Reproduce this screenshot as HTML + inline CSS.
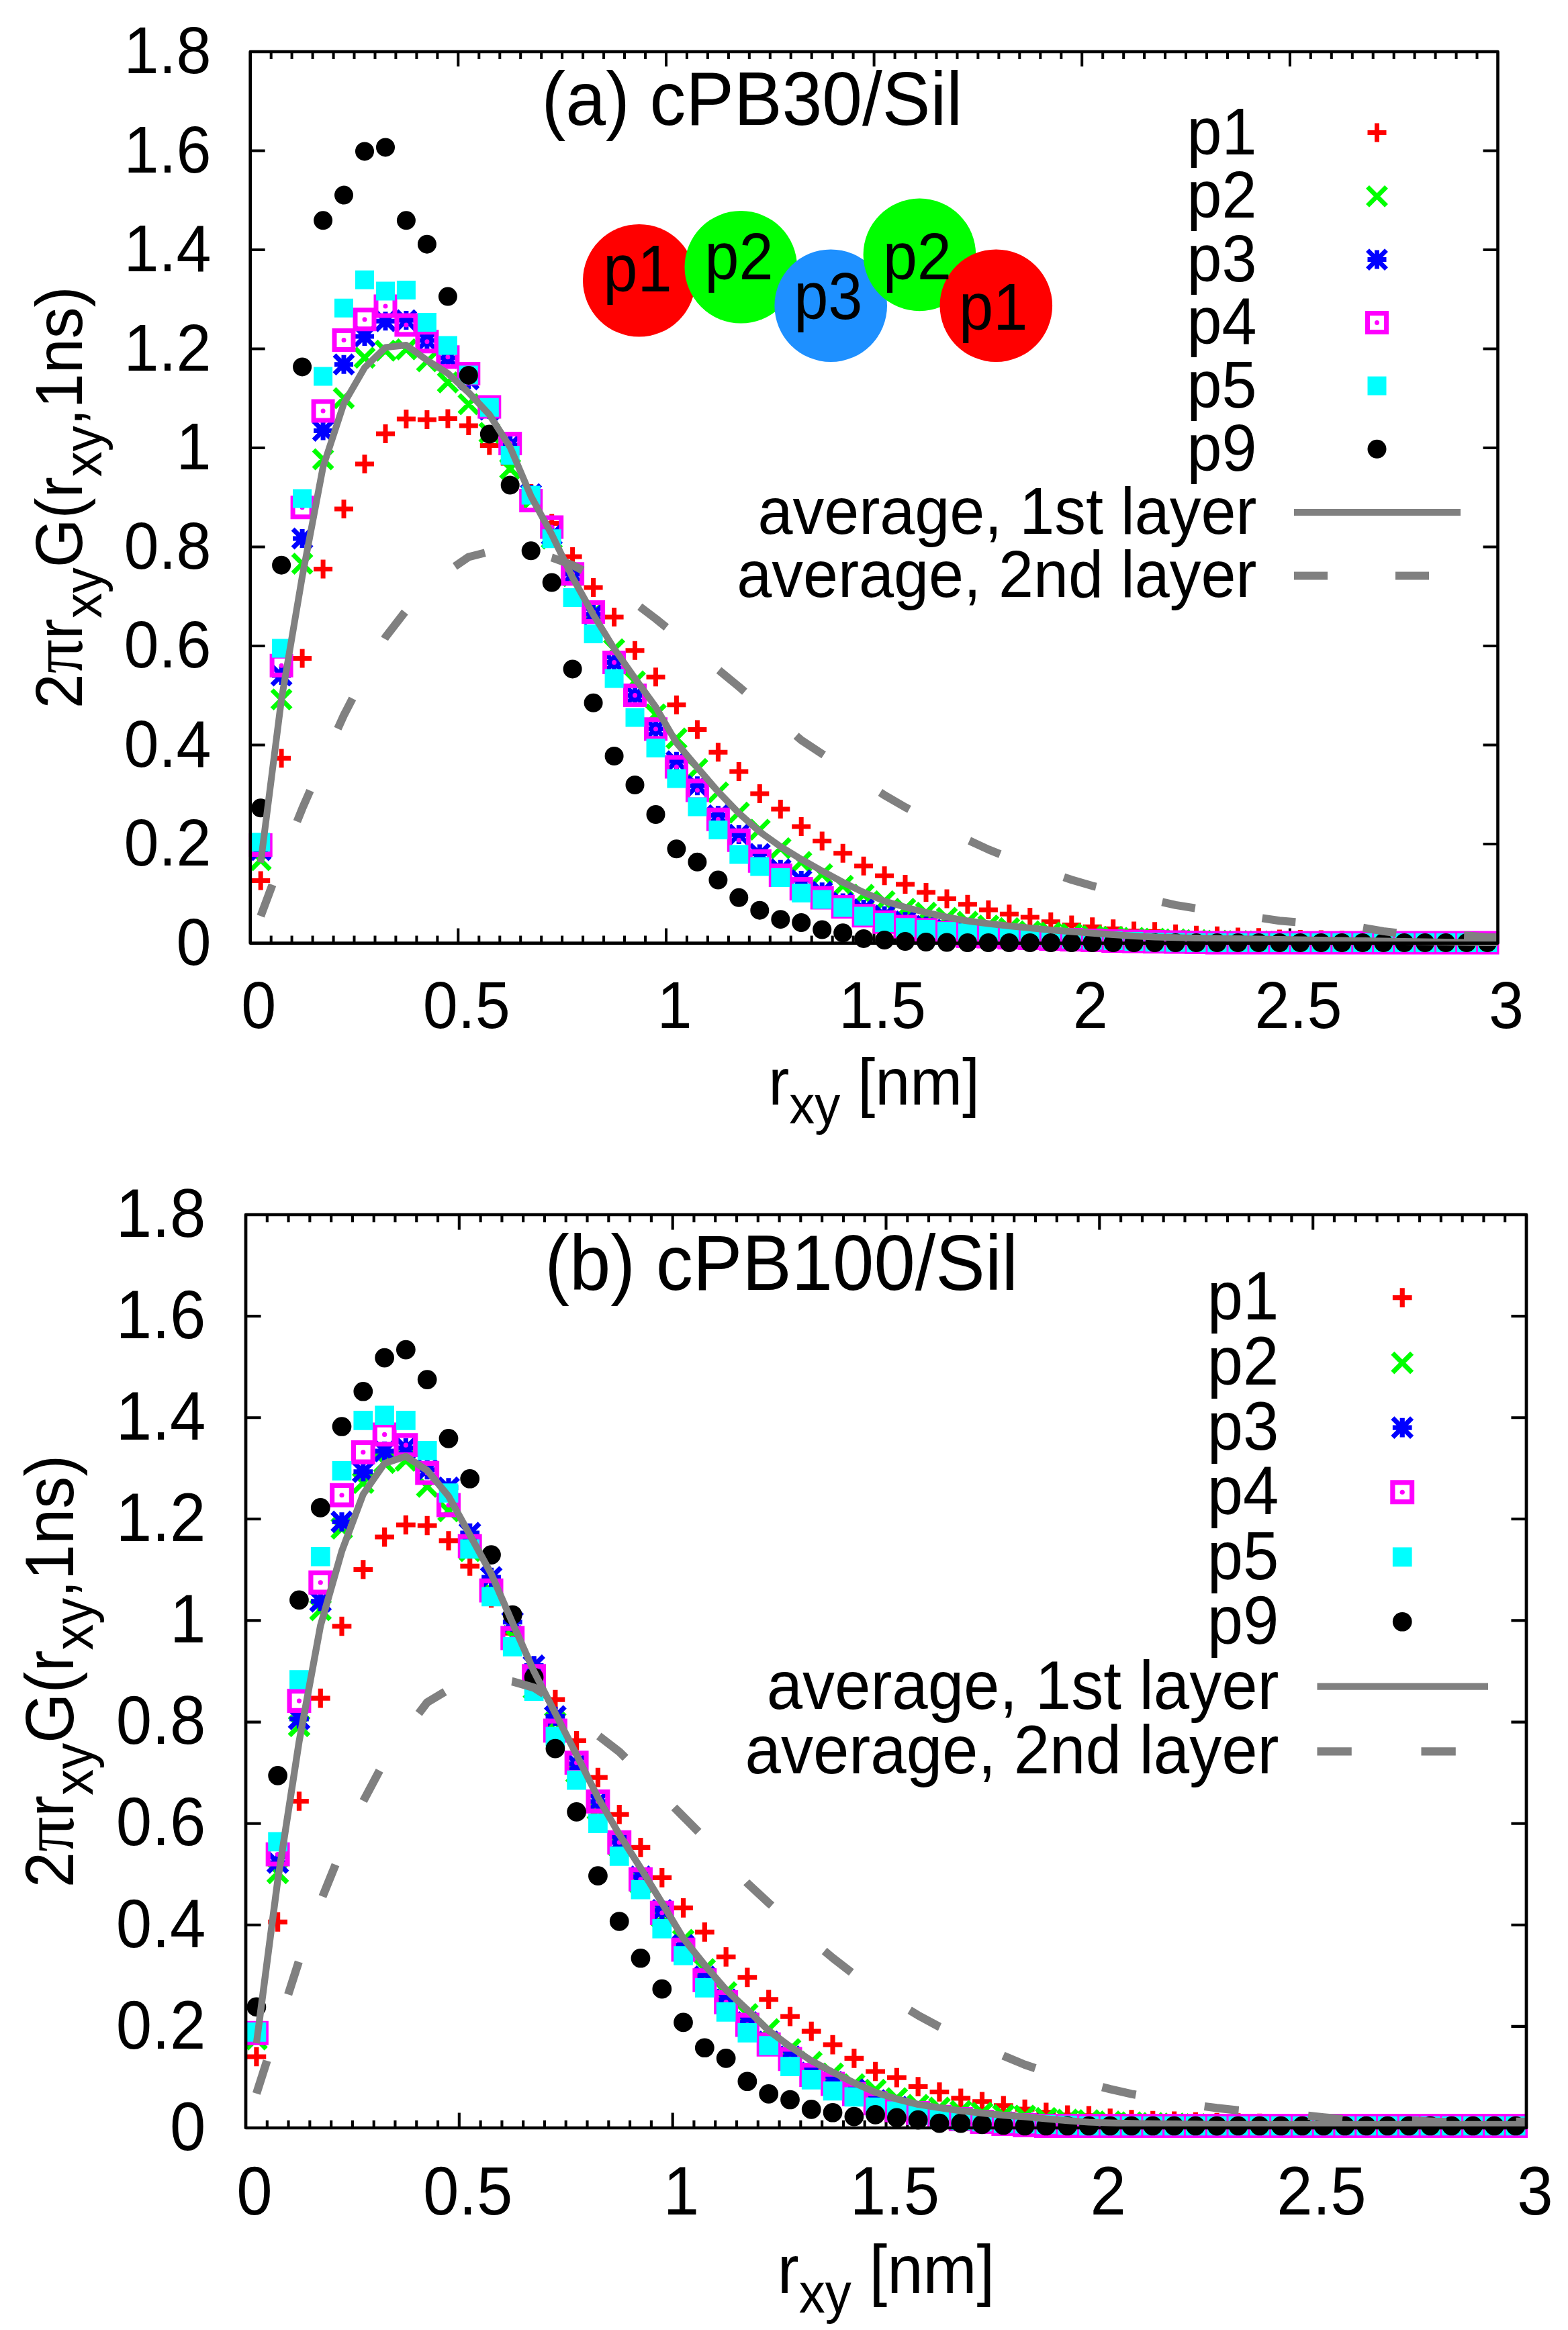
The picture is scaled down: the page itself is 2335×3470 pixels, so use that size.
<!DOCTYPE html>
<html><head><meta charset="utf-8"><title>plot</title>
<style>html,body{margin:0;padding:0;background:#fff;}svg{display:block;}</style></head>
<body>
<svg width="2335" height="3470" viewBox="0 0 2335 3470">
<rect width="2335" height="3470" fill="#fff"/>
<g>
<clipPath id="clipa"><rect x="372.7" y="77.0" width="1857.8" height="1327.6"/></clipPath>
<path d="M372.7 1257.1h22M2230.5 1257.1h-22M372.7 1109.6h22M2230.5 1109.6h-22M372.7 962.1h22M2230.5 962.1h-22M372.7 814.6h22M2230.5 814.6h-22M372.7 667h22M2230.5 667h-22M372.7 519.5h22M2230.5 519.5h-22M372.7 372h22M2230.5 372h-22M372.7 224.5h22M2230.5 224.5h-22M403.7 1404.6v-11M403.7 77v11M434.6 1404.6v-11M434.6 77v11M465.6 1404.6v-11M465.6 77v11M496.6 1404.6v-11M496.6 77v11M527.5 1404.6v-11M527.5 77v11M558.5 1404.6v-11M558.5 77v11M589.4 1404.6v-11M589.4 77v11M620.4 1404.6v-11M620.4 77v11M651.4 1404.6v-11M651.4 77v11M682.3 1404.6v-22M682.3 77v22M713.3 1404.6v-11M713.3 77v11M744.3 1404.6v-11M744.3 77v11M775.2 1404.6v-11M775.2 77v11M806.2 1404.6v-11M806.2 77v11M837.1 1404.6v-11M837.1 77v11M868.1 1404.6v-11M868.1 77v11M899.1 1404.6v-11M899.1 77v11M930 1404.6v-11M930 77v11M961 1404.6v-11M961 77v11M992 1404.6v-22M992 77v22M1022.9 1404.6v-11M1022.9 77v11M1053.9 1404.6v-11M1053.9 77v11M1084.9 1404.6v-11M1084.9 77v11M1115.8 1404.6v-11M1115.8 77v11M1146.8 1404.6v-11M1146.8 77v11M1177.7 1404.6v-11M1177.7 77v11M1208.7 1404.6v-11M1208.7 77v11M1239.7 1404.6v-11M1239.7 77v11M1270.6 1404.6v-11M1270.6 77v11M1301.6 1404.6v-22M1301.6 77v22M1332.6 1404.6v-11M1332.6 77v11M1363.5 1404.6v-11M1363.5 77v11M1394.5 1404.6v-11M1394.5 77v11M1425.5 1404.6v-11M1425.5 77v11M1456.4 1404.6v-11M1456.4 77v11M1487.4 1404.6v-11M1487.4 77v11M1518.3 1404.6v-11M1518.3 77v11M1549.3 1404.6v-11M1549.3 77v11M1580.3 1404.6v-11M1580.3 77v11M1611.2 1404.6v-22M1611.2 77v22M1642.2 1404.6v-11M1642.2 77v11M1673.2 1404.6v-11M1673.2 77v11M1704.1 1404.6v-11M1704.1 77v11M1735.1 1404.6v-11M1735.1 77v11M1766 1404.6v-11M1766 77v11M1797 1404.6v-11M1797 77v11M1828 1404.6v-11M1828 77v11M1858.9 1404.6v-11M1858.9 77v11M1889.9 1404.6v-11M1889.9 77v11M1920.9 1404.6v-22M1920.9 77v22M1951.8 1404.6v-11M1951.8 77v11M1982.8 1404.6v-11M1982.8 77v11M2013.8 1404.6v-11M2013.8 77v11M2044.7 1404.6v-11M2044.7 77v11M2075.7 1404.6v-11M2075.7 77v11M2106.6 1404.6v-11M2106.6 77v11M2137.6 1404.6v-11M2137.6 77v11M2168.6 1404.6v-11M2168.6 77v11M2199.5 1404.6v-11M2199.5 77v11" stroke="#000" stroke-width="4.0" fill="none"/>
<g font-family="'Liberation Sans', Arial, Helvetica, sans-serif" fill="#000">
<text transform="translate(314.5 1436.6) scale(1 1.06)" text-anchor="end" font-size="93.5">0</text>
<text transform="translate(314.5 1289.1) scale(1 1.06)" text-anchor="end" font-size="93.5">0.2</text>
<text transform="translate(314.5 1141.6) scale(1 1.06)" text-anchor="end" font-size="93.5">0.4</text>
<text transform="translate(314.5 994.1) scale(1 1.06)" text-anchor="end" font-size="93.5">0.6</text>
<text transform="translate(314.5 846.6) scale(1 1.06)" text-anchor="end" font-size="93.5">0.8</text>
<text transform="translate(314.5 699) scale(1 1.06)" text-anchor="end" font-size="93.5">1</text>
<text transform="translate(314.5 551.5) scale(1 1.06)" text-anchor="end" font-size="93.5">1.2</text>
<text transform="translate(314.5 404) scale(1 1.06)" text-anchor="end" font-size="93.5">1.4</text>
<text transform="translate(314.5 256.5) scale(1 1.06)" text-anchor="end" font-size="93.5">1.6</text>
<text transform="translate(314.5 109) scale(1 1.06)" text-anchor="end" font-size="93.5">1.8</text>
<text transform="translate(385.2 1531) scale(1 1.06)" text-anchor="middle" font-size="93.5">0</text>
<text transform="translate(694.8 1531) scale(1 1.06)" text-anchor="middle" font-size="93.5">0.5</text>
<text transform="translate(1004.5 1531) scale(1 1.06)" text-anchor="middle" font-size="93.5">1</text>
<text transform="translate(1314.1 1531) scale(1 1.06)" text-anchor="middle" font-size="93.5">1.5</text>
<text transform="translate(1623.7 1531) scale(1 1.06)" text-anchor="middle" font-size="93.5">2</text>
<text transform="translate(1933.4 1531) scale(1 1.06)" text-anchor="middle" font-size="93.5">2.5</text>
<text transform="translate(2243 1531) scale(1 1.06)" text-anchor="middle" font-size="93.5">3</text>
<text transform="translate(1301.6 1644.5) scale(1 1.06)" text-anchor="middle" font-size="93.5">r<tspan font-size="76" dy="27">xy</tspan><tspan dy="-27"> [nm]</tspan></text>
<text transform="translate(122.3 740.8) rotate(-90) scale(1 1.06)" text-anchor="middle" font-size="93.5">2<tspan font-family="'Liberation Serif', serif" font-size="101">&#960;</tspan>r<tspan font-size="76" dy="27">xy</tspan><tspan dy="-27">G(r</tspan><tspan font-size="76" dy="27">xy</tspan><tspan dy="-27">,1ns)</tspan></text>
<text transform="translate(1871.5 229.6) scale(1 1.06)" text-anchor="end" font-size="93.5">p1</text>
<text transform="translate(1871.5 324.4) scale(1 1.06)" text-anchor="end" font-size="93.5">p2</text>
<text transform="translate(1871.5 418.6) scale(1 1.06)" text-anchor="end" font-size="93.5">p3</text>
<text transform="translate(1871.5 512.4) scale(1 1.06)" text-anchor="end" font-size="93.5">p4</text>
<text transform="translate(1871.5 606.6) scale(1 1.06)" text-anchor="end" font-size="93.5">p5</text>
<text transform="translate(1871.5 700.8) scale(1 1.06)" text-anchor="end" font-size="93.5">p9</text>
<text transform="translate(1871.5 795) scale(1 1.06)" text-anchor="end" font-size="93.5">average, 1st layer</text>
<text transform="translate(1871.5 889.4) scale(1 1.06)" text-anchor="end" font-size="93.5">average, 2nd layer</text>
<text transform="translate(806.5 186.1) scale(1 1.06)" text-anchor="start" font-size="107.4">(a) cPB30/Sil</text>
</g>
<g font-family="'Liberation Sans', Arial, Helvetica, sans-serif"><circle cx="951.8" cy="417.7" r="83.8" fill="#ff0000"/>
<circle cx="1103.3" cy="397.8" r="83.8" fill="#00ff00"/>
<circle cx="1237.2" cy="455.2" r="83.8" fill="#1e90ff"/>
<circle cx="1369.4" cy="379.4" r="83.8" fill="#00ff00"/>
<circle cx="1483.3" cy="455.2" r="83.8" fill="#ff0000"/>
<text transform="translate(949.5 433.8) scale(1 1.06)" text-anchor="middle" font-size="92">p1</text>
<text transform="translate(1100.5 416.4) scale(1 1.06)" text-anchor="middle" font-size="92">p2</text>
<text transform="translate(1233.3 475.1) scale(1 1.06)" text-anchor="middle" font-size="92">p3</text>
<text transform="translate(1365.8 416.4) scale(1 1.06)" text-anchor="middle" font-size="92">p2</text>
<text transform="translate(1479.2 491.2) scale(1 1.06)" text-anchor="middle" font-size="92">p1</text></g>
<path d="M374.2 1311.5h28M388.2 1297.5v28M405.1 1129.2h28M419.1 1115.2v28M436.1 980.5h28M450.1 966.5v28M467.1 847.4h28M481.1 833.4v28M498 758h28M512 744v28M529 690.9h28M543 676.9v28M560 646h28M574 632v28M590.9 624h28M604.9 610v28M621.9 624.9h28M635.9 610.9v28M652.9 623.6h28M666.9 609.6v28M683.8 633.9h28M697.8 619.9v28M714.8 663.6h28M728.8 649.6v28M745.7 690h28M759.7 676v28M776.7 735h28M790.7 721v28M807.7 779.5h28M821.7 765.5v28M838.6 828.9h28M852.6 814.9v28M869.6 875.1h28M883.6 861.1v28M900.6 919h28M914.6 905v28M931.5 968.7h28M945.5 954.7v28M962.5 1008.3h28M976.5 994.3v28M993.4 1049.7h28M1007.4 1035.7v28M1024.4 1086.4h28M1038.4 1072.4v28M1055.4 1120.3h28M1069.4 1106.3v28M1086.3 1149h28M1100.3 1135v28M1117.3 1182.1h28M1131.3 1168.1v28M1148.3 1205h28M1162.3 1191v28M1179.2 1230.9h28M1193.2 1216.9v28M1210.2 1252.5h28M1224.2 1238.5v28M1241.2 1270.7h28M1255.2 1256.7v28M1272.1 1289.8h28M1286.1 1275.8v28M1303.1 1304.2h28M1317.1 1290.2v28M1334 1317h28M1348 1303v28M1365 1329h28M1379 1315v28M1396 1338.6h28M1410 1324.6v28M1426.9 1346.7h28M1440.9 1332.7v28M1457.9 1354.9h28M1471.9 1340.9v28M1488.9 1361.2h28M1502.9 1347.2v28M1519.8 1366h28M1533.8 1352v28M1550.8 1372.7h28M1564.8 1358.7v28M1581.8 1377.5h28M1595.8 1363.5v28M1612.7 1380.3h28M1626.7 1366.3v28M1643.7 1383.2h28M1657.7 1369.2v28M1674.6 1386.6h28M1688.6 1372.6v28M1705.6 1387.3h28M1719.6 1373.3v28M1736.6 1390.8h28M1750.6 1376.8v28M1767.5 1392.8h28M1781.5 1378.8v28M1798.5 1393.7h28M1812.5 1379.7v28M1829.5 1395.6h28M1843.5 1381.6v28M1860.4 1396.2h28M1874.4 1382.2v28M1891.4 1398.5h28M1905.4 1384.5v28M1922.3 1398.9h28M1936.3 1384.9v28M1953.3 1399.6h28M1967.3 1385.6v28M1984.3 1400h28M1998.3 1386v28M2015.2 1400.5h28M2029.2 1386.5v28M2046.2 1401h28M2060.2 1387v28M2077.2 1401.5h28M2091.2 1387.5v28M2108.1 1402h28M2122.1 1388v28M2139.1 1402.5h28M2153.1 1388.5v28M2170.1 1403h28M2184.1 1389v28M2201 1403h28M2215 1389v28" fill="none" stroke="#ff0000" stroke-width="7.0"/>
<path d="M374.2 1267l28 28M374.2 1295l28 -28M405.1 1027.6l28 28M405.1 1055.6l28 -28M436.1 825.5l28 28M436.1 853.5l28 -28M467.1 670l28 28M467.1 698l28 -28M498 579l28 28M498 607l28 -28M529 518.7l28 28M529 546.7l28 -28M560 508.2l28 28M560 536.2l28 -28M590.9 506.3l28 28M590.9 534.3l28 -28M621.9 524.1l28 28M621.9 552.1l28 -28M652.9 555.5l28 28M652.9 583.5l28 -28M683.8 588l28 28M683.8 616l28 -28M714.8 630.6l28 28M714.8 658.6l28 -28M745.7 684l28 28M745.7 712l28 -28M776.7 731l28 28M776.7 759l28 -28M807.7 788l28 28M807.7 816l28 -28M838.6 844l28 28M838.6 872l28 -28M869.6 899l28 28M869.6 927l28 -28M900.6 953l28 28M900.6 981l28 -28M931.5 1000.8l28 28M931.5 1028.8l28 -28M962.5 1049.9l28 28M962.5 1077.9l28 -28M993.4 1085.8l28 28M993.4 1113.8l28 -28M1024.4 1131.1l28 28M1024.4 1159.1l28 -28M1055.4 1166.1l28 28M1055.4 1194.1l28 -28M1086.3 1196.2l28 28M1086.3 1224.2l28 -28M1117.3 1221.6l28 28M1117.3 1249.6l28 -28M1148.3 1249.2l28 28M1148.3 1277.2l28 -28M1179.2 1269.7l28 28M1179.2 1297.7l28 -28M1210.2 1287.9l28 28M1210.2 1315.9l28 -28M1241.2 1305.1l28 28M1241.2 1333.1l28 -28M1272.1 1318.5l28 28M1272.1 1346.5l28 -28M1303.1 1328.1l28 28M1303.1 1356.1l28 -28M1334 1339.5l28 28M1334 1367.5l28 -28M1365 1345.3l28 28M1365 1373.3l28 -28M1396 1352.9l28 28M1396 1380.9l28 -28M1426.9 1358.7l28 28M1426.9 1386.7l28 -28M1457.9 1364.4l28 28M1457.9 1392.4l28 -28M1488.9 1368.2l28 28M1488.9 1396.2l28 -28M1519.8 1373l28 28M1519.8 1401l28 -28M1550.8 1375l28 28M1550.8 1403l28 -28M1581.8 1376.9l28 28M1581.8 1404.9l28 -28M1612.7 1379.7l28 28M1612.7 1407.7l28 -28M1643.7 1381.2l28 28M1643.7 1409.2l28 -28M1674.6 1382.6l28 28M1674.6 1410.6l28 -28M1705.6 1384l28 28M1705.6 1412l28 -28M1736.6 1385l28 28M1736.6 1413l28 -28M1767.5 1386l28 28M1767.5 1414l28 -28M1798.5 1387l28 28M1798.5 1415l28 -28M1829.5 1387.5l28 28M1829.5 1415.5l28 -28M1860.4 1388l28 28M1860.4 1416l28 -28M1891.4 1388.5l28 28M1891.4 1416.5l28 -28M1922.3 1389l28 28M1922.3 1417l28 -28M1953.3 1389.3l28 28M1953.3 1417.3l28 -28M1984.3 1389.6l28 28M1984.3 1417.6l28 -28M2015.2 1390l28 28M2015.2 1418l28 -28M2046.2 1390l28 28M2046.2 1418l28 -28M2077.2 1390l28 28M2077.2 1418l28 -28M2108.1 1390l28 28M2108.1 1418l28 -28M2139.1 1390l28 28M2139.1 1418l28 -28M2170.1 1390l28 28M2170.1 1418l28 -28M2201 1390l28 28M2201 1418l28 -28" fill="none" stroke="#00ff00" stroke-width="7.0"/>
<path d="M374.2 1266h28M388.2 1252v28M374.2 1252l28 28M374.2 1280l28 -28M405.1 1006h28M419.1 992v28M405.1 992l28 28M405.1 1020l28 -28M436.1 802h28M450.1 788v28M436.1 788l28 28M436.1 816l28 -28M467.1 641.5h28M481.1 627.5v28M467.1 627.5l28 28M467.1 655.5l28 -28M498 542.7h28M512 528.7v28M498 528.7l28 28M498 556.7l28 -28M529 501.1h28M543 487.1v28M529 487.1l28 28M529 515.1l28 -28M560 478.3h28M574 464.3v28M560 464.3l28 28M560 492.3l28 -28M590.9 477h28M604.9 463v28M590.9 463l28 28M590.9 491l28 -28M621.9 507h28M635.9 493v28M621.9 493l28 28M621.9 521l28 -28M652.9 533h28M666.9 519v28M652.9 519l28 28M652.9 547l28 -28M683.8 565h28M697.8 551v28M683.8 551l28 28M683.8 579l28 -28M714.8 610h28M728.8 596v28M714.8 596l28 28M714.8 624l28 -28M745.7 663h28M759.7 649v28M745.7 649l28 28M745.7 677l28 -28M776.7 736h28M790.7 722v28M776.7 722l28 28M776.7 750l28 -28M807.7 796.6h28M821.7 782.6v28M807.7 782.6l28 28M807.7 810.6l28 -28M838.6 855h28M852.6 841v28M838.6 841l28 28M838.6 869l28 -28M869.6 914.8h28M883.6 900.8v28M869.6 900.8l28 28M869.6 928.8l28 -28M900.6 986.5h28M914.6 972.5v28M900.6 972.5l28 28M900.6 1000.5l28 -28M931.5 1035.7h28M945.5 1021.7v28M931.5 1021.7l28 28M931.5 1049.7l28 -28M962.5 1085.5h28M976.5 1071.5v28M962.5 1071.5l28 28M962.5 1099.5l28 -28M993.4 1133.8h28M1007.4 1119.8v28M993.4 1119.8l28 28M993.4 1147.8l28 -28M1024.4 1170.2h28M1038.4 1156.2v28M1024.4 1156.2l28 28M1024.4 1184.2l28 -28M1055.4 1214.2h28M1069.4 1200.2v28M1055.4 1200.2l28 28M1055.4 1228.2l28 -28M1086.3 1242.9h28M1100.3 1228.9v28M1086.3 1228.9l28 28M1086.3 1256.9l28 -28M1117.3 1271.6h28M1131.3 1257.6v28M1117.3 1257.6l28 28M1117.3 1285.6l28 -28M1148.3 1294.8h28M1162.3 1280.8v28M1148.3 1280.8l28 28M1148.3 1308.8l28 -28M1179.2 1311h28M1193.2 1297v28M1179.2 1297l28 28M1179.2 1325l28 -28M1210.2 1328.3h28M1224.2 1314.3v28M1210.2 1314.3l28 28M1210.2 1342.3l28 -28M1241.2 1344.5h28M1255.2 1330.5v28M1241.2 1330.5l28 28M1241.2 1358.5l28 -28M1272.1 1354.1h28M1286.1 1340.1v28M1272.1 1340.1l28 28M1272.1 1368.1l28 -28M1303.1 1363.7h28M1317.1 1349.7v28M1303.1 1349.7l28 28M1303.1 1377.7l28 -28M1334 1372.3h28M1348 1358.3v28M1334 1358.3l28 28M1334 1386.3l28 -28M1365 1379h28M1379 1365v28M1365 1365l28 28M1365 1393l28 -28M1396 1384.7h28M1410 1370.7v28M1396 1370.7l28 28M1396 1398.7l28 -28M1426.9 1389h28M1440.9 1375v28M1426.9 1375l28 28M1426.9 1403l28 -28M1457.9 1392h28M1471.9 1378v28M1457.9 1378l28 28M1457.9 1406l28 -28M1488.9 1394.5h28M1502.9 1380.5v28M1488.9 1380.5l28 28M1488.9 1408.5l28 -28M1519.8 1396.5h28M1533.8 1382.5v28M1519.8 1382.5l28 28M1519.8 1410.5l28 -28M1550.8 1398h28M1564.8 1384v28M1550.8 1384l28 28M1550.8 1412l28 -28M1581.8 1399h28M1595.8 1385v28M1581.8 1385l28 28M1581.8 1413l28 -28M1612.7 1400h28M1626.7 1386v28M1612.7 1386l28 28M1612.7 1414l28 -28M1643.7 1401h28M1657.7 1387v28M1643.7 1387l28 28M1643.7 1415l28 -28M1674.6 1401.8h28M1688.6 1387.8v28M1674.6 1387.8l28 28M1674.6 1415.8l28 -28M1705.6 1402.5h28M1719.6 1388.5v28M1705.6 1388.5l28 28M1705.6 1416.5l28 -28M1736.6 1403h28M1750.6 1389v28M1736.6 1389l28 28M1736.6 1417l28 -28M1767.5 1403.5h28M1781.5 1389.5v28M1767.5 1389.5l28 28M1767.5 1417.5l28 -28M1798.5 1404h28M1812.5 1390v28M1798.5 1390l28 28M1798.5 1418l28 -28M1829.5 1404h28M1843.5 1390v28M1829.5 1390l28 28M1829.5 1418l28 -28M1860.4 1404h28M1874.4 1390v28M1860.4 1390l28 28M1860.4 1418l28 -28M1891.4 1404h28M1905.4 1390v28M1891.4 1390l28 28M1891.4 1418l28 -28M1922.3 1404h28M1936.3 1390v28M1922.3 1390l28 28M1922.3 1418l28 -28M1953.3 1404h28M1967.3 1390v28M1953.3 1390l28 28M1953.3 1418l28 -28M1984.3 1404h28M1998.3 1390v28M1984.3 1390l28 28M1984.3 1418l28 -28M2015.2 1404h28M2029.2 1390v28M2015.2 1390l28 28M2015.2 1418l28 -28M2046.2 1404h28M2060.2 1390v28M2046.2 1390l28 28M2046.2 1418l28 -28M2077.2 1404h28M2091.2 1390v28M2077.2 1390l28 28M2077.2 1418l28 -28M2108.1 1404h28M2122.1 1390v28M2108.1 1390l28 28M2108.1 1418l28 -28M2139.1 1404h28M2153.1 1390v28M2139.1 1390l28 28M2139.1 1418l28 -28M2170.1 1404h28M2184.1 1390v28M2170.1 1390l28 28M2170.1 1418l28 -28M2201 1404h28M2215 1390v28M2201 1390l28 28M2201 1418l28 -28" fill="none" stroke="#0000ff" stroke-width="7.0"/>
<path d="M374.2 1244.5h28v28h-28zM405.1 977.2h28v28h-28zM436.1 741.8h28v28h-28zM467.1 598.1h28v28h-28zM498 492.5h28v28h-28zM529 461.7h28v28h-28zM560 442.1h28v28h-28zM590.9 469.9h28v28h-28zM621.9 494.8h28v28h-28zM652.9 517.7h28v28h-28zM683.8 542.5h28v28h-28zM714.8 592h28v28h-28zM745.7 646.5h28v28h-28zM776.7 731.5h28v28h-28zM807.7 771.1h28v28h-28zM838.6 840.8h28v28h-28zM869.6 897.5h28v28h-28zM900.6 972.6h28v28h-28zM931.5 1021.6h28v28h-28zM962.5 1071.7h28v28h-28zM993.4 1127.9h28v28h-28zM1024.4 1163.1h28v28h-28zM1055.4 1206.3h28v28h-28zM1086.3 1237.3h28v28h-28zM1117.3 1268.3h28v28h-28zM1148.3 1289.5h28v28h-28zM1179.2 1309.6h28v28h-28zM1210.2 1323h28v28h-28zM1241.2 1336.4h28v28h-28zM1272.1 1349.8h28v28h-28zM1303.1 1359.3h28v28h-28zM1334 1366h28v28h-28zM1365 1370.8h28v28h-28zM1396 1375.6h28v28h-28zM1426.9 1380.4h28v28h-28zM1457.9 1381h28v28h-28zM1488.9 1382.5h28v28h-28zM1519.8 1383.5h28v28h-28zM1550.8 1384.5h28v28h-28zM1581.8 1385.5h28v28h-28zM1612.7 1386.5h28v28h-28zM1643.7 1387.5h28v28h-28zM1674.6 1388h28v28h-28zM1705.6 1388.5h28v28h-28zM1736.6 1389h28v28h-28zM1767.5 1389.5h28v28h-28zM1798.5 1390h28v28h-28zM1829.5 1390h28v28h-28zM1860.4 1390h28v28h-28zM1891.4 1390h28v28h-28zM1922.3 1390h28v28h-28zM1953.3 1390h28v28h-28zM1984.3 1390h28v28h-28zM2015.2 1390h28v28h-28zM2046.2 1390h28v28h-28zM2077.2 1390h28v28h-28zM2108.1 1390h28v28h-28zM2139.1 1390h28v28h-28zM2170.1 1390h28v28h-28zM2201 1390h28v28h-28z" fill="none" stroke="#ff00ff" stroke-width="7.0"/><path d="M388.2 1258.5h0.01M419.1 991.2h0.01M450.1 755.8h0.01M481.1 612.1h0.01M512 506.5h0.01M543 475.7h0.01M574 456.1h0.01M604.9 483.9h0.01M635.9 508.8h0.01M666.9 531.7h0.01M697.8 556.5h0.01M728.8 606h0.01M759.7 660.5h0.01M790.7 745.5h0.01M821.7 785.1h0.01M852.6 854.8h0.01M883.6 911.5h0.01M914.6 986.6h0.01M945.5 1035.6h0.01M976.5 1085.7h0.01M1007.4 1141.9h0.01M1038.4 1177.1h0.01M1069.4 1220.3h0.01M1100.3 1251.3h0.01M1131.3 1282.3h0.01M1162.3 1303.5h0.01M1193.2 1323.6h0.01M1224.2 1337h0.01M1255.2 1350.4h0.01M1286.1 1363.8h0.01M1317.1 1373.3h0.01M1348 1380h0.01M1379 1384.8h0.01M1410 1389.6h0.01M1440.9 1394.4h0.01M1471.9 1395h0.01M1502.9 1396.5h0.01M1533.8 1397.5h0.01M1564.8 1398.5h0.01M1595.8 1399.5h0.01M1626.7 1400.5h0.01M1657.7 1401.5h0.01M1688.6 1402h0.01M1719.6 1402.5h0.01M1750.6 1403h0.01M1781.5 1403.5h0.01M1812.5 1404h0.01M1843.5 1404h0.01M1874.4 1404h0.01M1905.4 1404h0.01M1936.3 1404h0.01M1967.3 1404h0.01M1998.3 1404h0.01M2029.2 1404h0.01M2060.2 1404h0.01M2091.2 1404h0.01M2122.1 1404h0.01M2153.1 1404h0.01M2184.1 1404h0.01M2215 1404h0.01" fill="none" stroke="#ff00ff" stroke-width="7.0" stroke-linecap="round"/>
<path d="M374.2 1240.3h28v28h-28zM405.1 951.4h28v28h-28zM436.1 728.4h28v28h-28zM467.1 546.4h28v28h-28zM498 444.8h28v28h-28zM529 402.7h28v28h-28zM560 419.4h28v28h-28zM590.9 418h28v28h-28zM621.9 466h28v28h-28zM652.9 500.6h28v28h-28zM683.8 544.4h28v28h-28zM714.8 592.8h28v28h-28zM745.7 663.9h28v28h-28zM776.7 723.6h28v28h-28zM807.7 788.2h28v28h-28zM838.6 876h28v28h-28zM869.6 929.9h28v28h-28zM900.6 996.4h28v28h-28zM931.5 1054.6h28v28h-28zM962.5 1100.1h28v28h-28zM993.4 1145.5h28v28h-28zM1024.4 1187.6h28v28h-28zM1055.4 1222h28v28h-28zM1086.3 1258.4h28v28h-28zM1117.3 1276.5h28v28h-28zM1148.3 1292.9h28v28h-28zM1179.2 1316h28v28h-28zM1210.2 1325.6h28v28h-28zM1241.2 1337.4h28v28h-28zM1272.1 1350.4h28v28h-28zM1303.1 1360h28v28h-28zM1334 1367.3h28v28h-28zM1365 1370h28v28h-28zM1396 1373h28v28h-28zM1426.9 1375.3h28v28h-28zM1457.9 1377.5h28v28h-28zM1488.9 1379.5h28v28h-28zM1519.8 1381h28v28h-28zM1550.8 1383h28v28h-28zM1581.8 1384.5h28v28h-28zM1612.7 1386h28v28h-28zM1643.7 1387h28v28h-28zM1674.6 1388h28v28h-28zM1705.6 1389h28v28h-28zM1736.6 1389.5h28v28h-28zM1767.5 1390h28v28h-28zM1798.5 1390h28v28h-28zM1829.5 1390h28v28h-28zM1860.4 1390h28v28h-28zM1891.4 1390h28v28h-28zM1922.3 1390h28v28h-28zM1953.3 1390h28v28h-28zM1984.3 1390h28v28h-28zM2015.2 1390h28v28h-28zM2046.2 1390h28v28h-28zM2077.2 1390h28v28h-28zM2108.1 1390h28v28h-28zM2139.1 1390h28v28h-28zM2170.1 1390h28v28h-28zM2201 1390h28v28h-28z" fill="#00ffff"/>
<path d="M374.2 1203.3a14 14 0 1 0 28 0a14 14 0 1 0 -28 0zM405.1 841.7a14 14 0 1 0 28 0a14 14 0 1 0 -28 0zM436.1 546.4a14 14 0 1 0 28 0a14 14 0 1 0 -28 0zM467.1 328.3a14 14 0 1 0 28 0a14 14 0 1 0 -28 0zM498 290.6a14 14 0 1 0 28 0a14 14 0 1 0 -28 0zM529 225.4a14 14 0 1 0 28 0a14 14 0 1 0 -28 0zM560 219.4a14 14 0 1 0 28 0a14 14 0 1 0 -28 0zM590.9 328.3a14 14 0 1 0 28 0a14 14 0 1 0 -28 0zM621.9 363.7a14 14 0 1 0 28 0a14 14 0 1 0 -28 0zM652.9 441.6a14 14 0 1 0 28 0a14 14 0 1 0 -28 0zM683.8 558.9a14 14 0 1 0 28 0a14 14 0 1 0 -28 0zM714.8 646.6a14 14 0 1 0 28 0a14 14 0 1 0 -28 0zM745.7 722.5a14 14 0 1 0 28 0a14 14 0 1 0 -28 0zM776.7 820.3a14 14 0 1 0 28 0a14 14 0 1 0 -28 0zM807.7 867.5a14 14 0 1 0 28 0a14 14 0 1 0 -28 0zM838.6 996.4a14 14 0 1 0 28 0a14 14 0 1 0 -28 0zM869.6 1046.8a14 14 0 1 0 28 0a14 14 0 1 0 -28 0zM900.6 1126a14 14 0 1 0 28 0a14 14 0 1 0 -28 0zM931.5 1169a14 14 0 1 0 28 0a14 14 0 1 0 -28 0zM962.5 1213a14 14 0 1 0 28 0a14 14 0 1 0 -28 0zM993.4 1264.3a14 14 0 1 0 28 0a14 14 0 1 0 -28 0zM1024.4 1283.8a14 14 0 1 0 28 0a14 14 0 1 0 -28 0zM1055.4 1310.6a14 14 0 1 0 28 0a14 14 0 1 0 -28 0zM1086.3 1336.8a14 14 0 1 0 28 0a14 14 0 1 0 -28 0zM1117.3 1355.7a14 14 0 1 0 28 0a14 14 0 1 0 -28 0zM1148.3 1369.2a14 14 0 1 0 28 0a14 14 0 1 0 -28 0zM1179.2 1374a14 14 0 1 0 28 0a14 14 0 1 0 -28 0zM1210.2 1384.5a14 14 0 1 0 28 0a14 14 0 1 0 -28 0zM1241.2 1389.3a14 14 0 1 0 28 0a14 14 0 1 0 -28 0zM1272.1 1397.9a14 14 0 1 0 28 0a14 14 0 1 0 -28 0zM1303.1 1400a14 14 0 1 0 28 0a14 14 0 1 0 -28 0zM1334 1402a14 14 0 1 0 28 0a14 14 0 1 0 -28 0zM1365 1403a14 14 0 1 0 28 0a14 14 0 1 0 -28 0zM1396 1403.5a14 14 0 1 0 28 0a14 14 0 1 0 -28 0zM1426.9 1404a14 14 0 1 0 28 0a14 14 0 1 0 -28 0zM1457.9 1404a14 14 0 1 0 28 0a14 14 0 1 0 -28 0zM1488.9 1404a14 14 0 1 0 28 0a14 14 0 1 0 -28 0zM1519.8 1404a14 14 0 1 0 28 0a14 14 0 1 0 -28 0zM1550.8 1404a14 14 0 1 0 28 0a14 14 0 1 0 -28 0zM1581.8 1404a14 14 0 1 0 28 0a14 14 0 1 0 -28 0zM1612.7 1404a14 14 0 1 0 28 0a14 14 0 1 0 -28 0zM1643.7 1404a14 14 0 1 0 28 0a14 14 0 1 0 -28 0zM1674.6 1404a14 14 0 1 0 28 0a14 14 0 1 0 -28 0zM1705.6 1404a14 14 0 1 0 28 0a14 14 0 1 0 -28 0zM1736.6 1404a14 14 0 1 0 28 0a14 14 0 1 0 -28 0zM1767.5 1404a14 14 0 1 0 28 0a14 14 0 1 0 -28 0zM1798.5 1404a14 14 0 1 0 28 0a14 14 0 1 0 -28 0zM1829.5 1404a14 14 0 1 0 28 0a14 14 0 1 0 -28 0zM1860.4 1404a14 14 0 1 0 28 0a14 14 0 1 0 -28 0zM1891.4 1404a14 14 0 1 0 28 0a14 14 0 1 0 -28 0zM1922.3 1404a14 14 0 1 0 28 0a14 14 0 1 0 -28 0zM1953.3 1404a14 14 0 1 0 28 0a14 14 0 1 0 -28 0zM1984.3 1404a14 14 0 1 0 28 0a14 14 0 1 0 -28 0zM2015.2 1404a14 14 0 1 0 28 0a14 14 0 1 0 -28 0zM2046.2 1404a14 14 0 1 0 28 0a14 14 0 1 0 -28 0zM2077.2 1404a14 14 0 1 0 28 0a14 14 0 1 0 -28 0zM2108.1 1404a14 14 0 1 0 28 0a14 14 0 1 0 -28 0zM2139.1 1404a14 14 0 1 0 28 0a14 14 0 1 0 -28 0zM2170.1 1404a14 14 0 1 0 28 0a14 14 0 1 0 -28 0zM2201 1404a14 14 0 1 0 28 0a14 14 0 1 0 -28 0z" fill="#000000"/>
<path d="M2036.5 197.6h28M2050.5 183.6v28" fill="none" stroke="#ff0000" stroke-width="7.0"/>
<path d="M2036.5 278.4l28 28M2036.5 306.4l28 -28" fill="none" stroke="#00ff00" stroke-width="7.0"/>
<path d="M2036.5 386.6h28M2050.5 372.6v28M2036.5 372.6l28 28M2036.5 400.6l28 -28" fill="none" stroke="#0000ff" stroke-width="7.0"/>
<path d="M2036.5 466.4h28v28h-28z" fill="none" stroke="#ff00ff" stroke-width="7.0"/>
<path d="M2050.5 480.4h0.01" stroke="#ff00ff" stroke-width="7.0" stroke-linecap="round"/>
<path d="M2036.5 560.6h28v28h-28z" fill="#00ffff"/>
<path d="M2036.5 668.8a14 14 0 1 0 28 0a14 14 0 1 0 -28 0z" fill="#000000"/>
<path d="M1927 763.0H2175" stroke="#808080" stroke-width="10"/>
<path d="M1927 857.4H2175" stroke="#808080" stroke-width="12" stroke-dasharray="50 101"/>
<path d="M388.2 1284.5L419.1 1041.5L450.1 858.6L481.1 695.3L512 601L543 547.5L574 517.4L604.9 514L635.9 536.5L666.9 556L697.8 584.5L728.8 617.5L759.7 666L790.7 739L821.7 796L852.6 860L883.6 915.5L914.6 966L945.5 1010L976.5 1053L1007.4 1106.3L1038.4 1143L1069.4 1179L1100.3 1211L1131.3 1238.7L1162.3 1260.8L1193.2 1279.7L1224.2 1297L1255.2 1314L1286.1 1329L1317.1 1342L1348 1351L1379 1359L1410 1366L1440.9 1371.5L1471.9 1375.5L1502.9 1379L1533.8 1382L1564.8 1385L1595.8 1387.5L1626.7 1389.8L1657.7 1392L1688.6 1394L1719.6 1395.5L1750.6 1396.3L1781.5 1397L1812.5 1397.5L1843.5 1398L1874.4 1398.5L1905.4 1399L1936.3 1399.5L1967.3 1400L1998.3 1400.5L2029.2 1401L2060.2 1401.5L2091.2 1402L2122.1 1402.5L2153.1 1403L2184.1 1403.5L2215 1404L2230.5 1404" fill="none" stroke="#808080" stroke-width="10" stroke-linejoin="round"/>
<path d="M388.2 1364.4L419.1 1281.3L450.1 1204.2L481.1 1133.4L512 1065.3L543 1005.1L574 949L604.9 909L635.9 879.9L666.9 850.8L697.8 829.5L728.8 821.5L759.7 818.1L790.7 822.4L821.7 830.4L852.6 841.6L883.6 857.6L914.6 877.8L945.5 898L976.5 921.5L1007.4 946.5L1038.4 971.8L1069.4 997.2L1100.3 1022.7L1131.3 1049L1162.3 1075.7L1193.2 1102.3L1224.2 1122.7L1255.2 1143.2L1286.1 1164L1317.1 1184.2L1348 1202.1L1379 1218.5L1410 1234.6L1440.9 1250.8L1471.9 1265.1L1502.9 1277.7L1533.8 1288.8L1564.8 1299.8L1595.8 1310.2L1626.7 1319.3L1657.7 1326.8L1688.6 1333.8L1719.6 1340.9L1750.6 1347.9L1781.5 1352.9L1812.5 1357.4L1843.5 1362L1874.4 1366.6L1905.4 1371.2L1936.3 1373.8L1967.3 1376.3L1998.3 1378.9L2029.2 1381.5L2060.2 1386.9L2091.2 1390.8L2122.1 1391.5L2153.1 1392.3L2184.1 1393.3L2215 1395.9L2230.5 1395.9" fill="none" stroke="#808080" stroke-width="12" stroke-linejoin="round" stroke-dasharray="50 101"/>
<rect x="372.7" y="77.0" width="1857.8" height="1327.6" fill="none" stroke="#000" stroke-width="4.6" stroke-linejoin="round"/>
</g>
<g transform="matrix(1.026483 0 0 1.024405 -16.570 1730.121)">
<clipPath id="clipb"><rect x="372.7" y="77.0" width="1857.8" height="1327.6"/></clipPath>
<path d="M372.7 1257.1h22M2230.5 1257.1h-22M372.7 1109.6h22M2230.5 1109.6h-22M372.7 962.1h22M2230.5 962.1h-22M372.7 814.6h22M2230.5 814.6h-22M372.7 667h22M2230.5 667h-22M372.7 519.5h22M2230.5 519.5h-22M372.7 372h22M2230.5 372h-22M372.7 224.5h22M2230.5 224.5h-22M403.7 1404.6v-11M403.7 77v11M434.6 1404.6v-11M434.6 77v11M465.6 1404.6v-11M465.6 77v11M496.6 1404.6v-11M496.6 77v11M527.5 1404.6v-11M527.5 77v11M558.5 1404.6v-11M558.5 77v11M589.4 1404.6v-11M589.4 77v11M620.4 1404.6v-11M620.4 77v11M651.4 1404.6v-11M651.4 77v11M682.3 1404.6v-22M682.3 77v22M713.3 1404.6v-11M713.3 77v11M744.3 1404.6v-11M744.3 77v11M775.2 1404.6v-11M775.2 77v11M806.2 1404.6v-11M806.2 77v11M837.1 1404.6v-11M837.1 77v11M868.1 1404.6v-11M868.1 77v11M899.1 1404.6v-11M899.1 77v11M930 1404.6v-11M930 77v11M961 1404.6v-11M961 77v11M992 1404.6v-22M992 77v22M1022.9 1404.6v-11M1022.9 77v11M1053.9 1404.6v-11M1053.9 77v11M1084.9 1404.6v-11M1084.9 77v11M1115.8 1404.6v-11M1115.8 77v11M1146.8 1404.6v-11M1146.8 77v11M1177.7 1404.6v-11M1177.7 77v11M1208.7 1404.6v-11M1208.7 77v11M1239.7 1404.6v-11M1239.7 77v11M1270.6 1404.6v-11M1270.6 77v11M1301.6 1404.6v-22M1301.6 77v22M1332.6 1404.6v-11M1332.6 77v11M1363.5 1404.6v-11M1363.5 77v11M1394.5 1404.6v-11M1394.5 77v11M1425.5 1404.6v-11M1425.5 77v11M1456.4 1404.6v-11M1456.4 77v11M1487.4 1404.6v-11M1487.4 77v11M1518.3 1404.6v-11M1518.3 77v11M1549.3 1404.6v-11M1549.3 77v11M1580.3 1404.6v-11M1580.3 77v11M1611.2 1404.6v-22M1611.2 77v22M1642.2 1404.6v-11M1642.2 77v11M1673.2 1404.6v-11M1673.2 77v11M1704.1 1404.6v-11M1704.1 77v11M1735.1 1404.6v-11M1735.1 77v11M1766 1404.6v-11M1766 77v11M1797 1404.6v-11M1797 77v11M1828 1404.6v-11M1828 77v11M1858.9 1404.6v-11M1858.9 77v11M1889.9 1404.6v-11M1889.9 77v11M1920.9 1404.6v-22M1920.9 77v22M1951.8 1404.6v-11M1951.8 77v11M1982.8 1404.6v-11M1982.8 77v11M2013.8 1404.6v-11M2013.8 77v11M2044.7 1404.6v-11M2044.7 77v11M2075.7 1404.6v-11M2075.7 77v11M2106.6 1404.6v-11M2106.6 77v11M2137.6 1404.6v-11M2137.6 77v11M2168.6 1404.6v-11M2168.6 77v11M2199.5 1404.6v-11M2199.5 77v11" stroke="#000" stroke-width="4.0" fill="none"/>
<g font-family="'Liberation Sans', Arial, Helvetica, sans-serif" fill="#000">
<text transform="translate(314.5 1436.6) scale(1 1.06)" text-anchor="end" font-size="93.5">0</text>
<text transform="translate(314.5 1289.1) scale(1 1.06)" text-anchor="end" font-size="93.5">0.2</text>
<text transform="translate(314.5 1141.6) scale(1 1.06)" text-anchor="end" font-size="93.5">0.4</text>
<text transform="translate(314.5 994.1) scale(1 1.06)" text-anchor="end" font-size="93.5">0.6</text>
<text transform="translate(314.5 846.6) scale(1 1.06)" text-anchor="end" font-size="93.5">0.8</text>
<text transform="translate(314.5 699) scale(1 1.06)" text-anchor="end" font-size="93.5">1</text>
<text transform="translate(314.5 551.5) scale(1 1.06)" text-anchor="end" font-size="93.5">1.2</text>
<text transform="translate(314.5 404) scale(1 1.06)" text-anchor="end" font-size="93.5">1.4</text>
<text transform="translate(314.5 256.5) scale(1 1.06)" text-anchor="end" font-size="93.5">1.6</text>
<text transform="translate(314.5 109) scale(1 1.06)" text-anchor="end" font-size="93.5">1.8</text>
<text transform="translate(385.2 1531) scale(1 1.06)" text-anchor="middle" font-size="93.5">0</text>
<text transform="translate(694.8 1531) scale(1 1.06)" text-anchor="middle" font-size="93.5">0.5</text>
<text transform="translate(1004.5 1531) scale(1 1.06)" text-anchor="middle" font-size="93.5">1</text>
<text transform="translate(1314.1 1531) scale(1 1.06)" text-anchor="middle" font-size="93.5">1.5</text>
<text transform="translate(1623.7 1531) scale(1 1.06)" text-anchor="middle" font-size="93.5">2</text>
<text transform="translate(1933.4 1531) scale(1 1.06)" text-anchor="middle" font-size="93.5">2.5</text>
<text transform="translate(2243 1531) scale(1 1.06)" text-anchor="middle" font-size="93.5">3</text>
<text transform="translate(1301.6 1644.5) scale(1 1.06)" text-anchor="middle" font-size="93.5">r<tspan font-size="76" dy="27">xy</tspan><tspan dy="-27"> [nm]</tspan></text>
<text transform="translate(122.3 740.8) rotate(-90) scale(1 1.06)" text-anchor="middle" font-size="93.5">2<tspan font-family="'Liberation Serif', serif" font-size="101">&#960;</tspan>r<tspan font-size="76" dy="27">xy</tspan><tspan dy="-27">G(r</tspan><tspan font-size="76" dy="27">xy</tspan><tspan dy="-27">,1ns)</tspan></text>
<text transform="translate(1871.5 229.6) scale(1 1.06)" text-anchor="end" font-size="93.5">p1</text>
<text transform="translate(1871.5 324.4) scale(1 1.06)" text-anchor="end" font-size="93.5">p2</text>
<text transform="translate(1871.5 418.6) scale(1 1.06)" text-anchor="end" font-size="93.5">p3</text>
<text transform="translate(1871.5 512.4) scale(1 1.06)" text-anchor="end" font-size="93.5">p4</text>
<text transform="translate(1871.5 606.6) scale(1 1.06)" text-anchor="end" font-size="93.5">p5</text>
<text transform="translate(1871.5 700.8) scale(1 1.06)" text-anchor="end" font-size="93.5">p9</text>
<text transform="translate(1871.5 795) scale(1 1.06)" text-anchor="end" font-size="93.5">average, 1st layer</text>
<text transform="translate(1871.5 889.4) scale(1 1.06)" text-anchor="end" font-size="93.5">average, 2nd layer</text>
<text transform="translate(806.5 186.1) scale(1 1.06)" text-anchor="start" font-size="107.4">(b) cPB100/Sil</text>
</g>
<path d="M374.2 1301.1h28M388.2 1287.1v28M405.1 1105.2h28M419.1 1091.2v28M436.1 929.7h28M450.1 915.7v28M467.1 780h28M481.1 766v28M498 675.4h28M512 661.4v28M529 592.9h28M543 578.9v28M560 545.6h28M574 531.6v28M590.9 528h28M604.9 514v28M621.9 529h28M635.9 515v28M652.9 551.1h28M666.9 537.1v28M683.8 587.9h28M697.8 573.9v28M714.8 634.4h28M728.8 620.4v28M745.7 685.2h28M759.7 671.2v28M776.7 734h28M790.7 720v28M807.7 781.9h28M821.7 767.9v28M838.6 841.7h28M852.6 827.7v28M869.6 895.2h28M883.6 881.2v28M900.6 949h28M914.6 935v28M931.5 996.9h28M945.5 982.9v28M962.5 1040.9h28M976.5 1026.9v28M993.4 1084.8h28M1007.4 1070.8v28M1024.4 1120h28M1038.4 1106v28M1055.4 1156h28M1069.4 1142v28M1086.3 1185.8h28M1100.3 1171.8v28M1117.3 1217.9h28M1131.3 1203.9v28M1148.3 1242.7h28M1162.3 1228.7v28M1179.2 1264.2h28M1193.2 1250.2v28M1210.2 1283.7h28M1224.2 1269.7v28M1241.2 1303.5h28M1255.2 1289.5v28M1272.1 1322.6h28M1286.1 1308.6v28M1303.1 1331.5h28M1317.1 1317.5v28M1334 1344.6h28M1348 1330.6v28M1365 1352.4h28M1379 1338.4v28M1396 1361.6h28M1410 1347.6v28M1426.9 1366.3h28M1440.9 1352.3v28M1457.9 1372.3h28M1471.9 1358.3v28M1488.9 1377.4h28M1502.9 1363.4v28M1519.8 1382h28M1533.8 1368v28M1550.8 1386h28M1564.8 1372v28M1581.8 1386.8h28M1595.8 1372.8v28M1612.7 1390.5h28M1626.7 1376.5v28M1643.7 1392.4h28M1657.7 1378.4v28M1674.6 1393.9h28M1688.6 1379.9v28M1705.6 1394.8h28M1719.6 1380.8v28M1736.6 1395.8h28M1750.6 1381.8v28M1767.5 1396.8h28M1781.5 1382.8v28M1798.5 1397.3h28M1812.5 1383.3v28M1829.5 1397.8h28M1843.5 1383.8v28M1860.4 1398.3h28M1874.4 1384.3v28M1891.4 1398.7h28M1905.4 1384.7v28M1922.3 1399.2h28M1936.3 1385.2v28M1953.3 1399.7h28M1967.3 1385.7v28M1984.3 1400.2h28M1998.3 1386.2v28M2015.2 1400.7h28M2029.2 1386.7v28M2046.2 1401.7h28M2060.2 1387.7v28M2077.2 1401.7h28M2091.2 1387.7v28M2108.1 1401.7h28M2122.1 1387.7v28M2139.1 1401.7h28M2153.1 1387.7v28M2170.1 1401.7h28M2184.1 1387.7v28M2201 1401.7h28M2215 1387.7v28" fill="none" stroke="#ff0000" stroke-width="7.0"/>
<path d="M374.2 1261.5l28 28M374.2 1289.5l28 -28M405.1 1019.9l28 28M405.1 1047.9l28 -28M436.1 806.3l28 28M436.1 834.3l28 -28M467.1 637.6l28 28M467.1 665.6l28 -28M498 519l28 28M498 547l28 -28M529 452.6l28 28M529 480.6l28 -28M560 423.6l28 28M560 451.6l28 -28M590.9 420.3l28 28M590.9 448.3l28 -28M621.9 458.2l28 28M621.9 486.2l28 -28M652.9 493.8l28 28M652.9 521.8l28 -28M683.8 551.7l28 28M683.8 579.7l28 -28M714.8 610.6l28 28M714.8 638.6l28 -28M745.7 676l28 28M745.7 704l28 -28M776.7 752.2l28 28M776.7 780.2l28 -28M807.7 801l28 28M807.7 829l28 -28M838.6 874.2l28 28M838.6 902.2l28 -28M869.6 927.9l28 28M869.6 955.9l28 -28M900.6 981.6l28 28M900.6 1009.6l28 -28M931.5 1035.3l28 28M931.5 1063.3l28 -28M962.5 1084.1l28 28M962.5 1112.1l28 -28M993.4 1117.6l28 28M993.4 1145.6l28 -28M1024.4 1160.1l28 28M1024.4 1188.1l28 -28M1055.4 1193.8l28 28M1055.4 1221.8l28 -28M1086.3 1225.5l28 28M1086.3 1253.5l28 -28M1117.3 1247.4l28 28M1117.3 1275.4l28 -28M1148.3 1276.4l28 28M1148.3 1304.4l28 -28M1179.2 1295l28 28M1179.2 1323l28 -28M1210.2 1311.8l28 28M1210.2 1339.8l28 -28M1241.2 1327.5l28 28M1241.2 1355.5l28 -28M1272.1 1335.6l28 28M1272.1 1363.6l28 -28M1303.1 1347.7l28 28M1303.1 1375.7l28 -28M1334 1357.5l28 28M1334 1385.5l28 -28M1365 1361.5l28 28M1365 1389.5l28 -28M1396 1366.4l28 28M1396 1394.4l28 -28M1426.9 1368.9l28 28M1426.9 1396.9l28 -28M1457.9 1372.2l28 28M1457.9 1400.2l28 -28M1488.9 1373.2l28 28M1488.9 1401.2l28 -28M1519.8 1376.5l28 28M1519.8 1404.5l28 -28M1550.8 1378.9l28 28M1550.8 1406.9l28 -28M1581.8 1379.8l28 28M1581.8 1407.8l28 -28M1612.7 1381.6l28 28M1612.7 1409.6l28 -28M1643.7 1382.8l28 28M1643.7 1410.8l28 -28M1674.6 1383.8l28 28M1674.6 1411.8l28 -28M1705.6 1384.7l28 28M1705.6 1412.7l28 -28M1736.6 1385.7l28 28M1736.6 1413.7l28 -28M1767.5 1386.7l28 28M1767.5 1414.7l28 -28M1798.5 1387.7l28 28M1798.5 1415.7l28 -28M1829.5 1387.7l28 28M1829.5 1415.7l28 -28M1860.4 1387.7l28 28M1860.4 1415.7l28 -28M1891.4 1387.7l28 28M1891.4 1415.7l28 -28M1922.3 1387.7l28 28M1922.3 1415.7l28 -28M1953.3 1387.7l28 28M1953.3 1415.7l28 -28M1984.3 1387.7l28 28M1984.3 1415.7l28 -28M2015.2 1387.7l28 28M2015.2 1415.7l28 -28M2046.2 1387.7l28 28M2046.2 1415.7l28 -28M2077.2 1387.7l28 28M2077.2 1415.7l28 -28M2108.1 1387.7l28 28M2108.1 1415.7l28 -28M2139.1 1387.7l28 28M2139.1 1415.7l28 -28M2170.1 1387.7l28 28M2170.1 1415.7l28 -28M2201 1387.7l28 28M2201 1415.7l28 -28" fill="none" stroke="#00ff00" stroke-width="7.0"/>
<path d="M374.2 1268.9h28M388.2 1254.9v28M374.2 1254.9l28 28M374.2 1282.9l28 -28M405.1 1019h28M419.1 1005v28M405.1 1005l28 28M405.1 1033l28 -28M436.1 810.1h28M450.1 796.1v28M436.1 796.1l28 28M436.1 824.1l28 -28M467.1 639.1h28M481.1 625.1v28M467.1 625.1l28 28M467.1 653.1l28 -28M498 523.6h28M512 509.6v28M498 509.6l28 28M498 537.6l28 -28M529 450.7h28M543 436.7v28M529 436.7l28 28M529 464.7l28 -28M560 420.8h28M574 406.8v28M560 406.8l28 28M560 434.8l28 -28M590.9 416.1h28M604.9 402.1v28M590.9 402.1l28 28M590.9 430.1l28 -28M621.9 447.9h28M635.9 433.9v28M621.9 433.9l28 28M621.9 461.9l28 -28M652.9 474h28M666.9 460v28M652.9 460l28 28M652.9 488l28 -28M683.8 539.9h28M697.8 525.9v28M683.8 525.9l28 28M683.8 553.9l28 -28M714.8 604.2h28M728.8 590.2v28M714.8 590.2l28 28M714.8 618.2l28 -28M745.7 669.1h28M759.7 655.1v28M745.7 655.1l28 28M745.7 683.1l28 -28M776.7 732.7h28M790.7 718.7v28M776.7 718.7l28 28M776.7 746.7l28 -28M807.7 806.4h28M821.7 792.4v28M807.7 792.4l28 28M807.7 820.4l28 -28M838.6 875.3h28M852.6 861.3v28M838.6 861.3l28 28M838.6 889.3l28 -28M869.6 930.2h28M883.6 916.2v28M869.6 916.2l28 28M869.6 944.2l28 -28M900.6 989.7h28M914.6 975.7v28M900.6 975.7l28 28M900.6 1003.7l28 -28M931.5 1039.5h28M945.5 1025.5v28M931.5 1025.5l28 28M931.5 1053.5l28 -28M962.5 1088.3h28M976.5 1074.3v28M962.5 1074.3l28 28M962.5 1102.3l28 -28M993.4 1139.1h28M1007.4 1125.1v28M993.4 1125.1l28 28M993.4 1153.1l28 -28M1024.4 1184.9h28M1038.4 1170.9v28M1024.4 1170.9l28 28M1024.4 1198.9l28 -28M1055.4 1218.2h28M1069.4 1204.2v28M1055.4 1204.2l28 28M1055.4 1232.2l28 -28M1086.3 1251.3h28M1100.3 1237.3v28M1086.3 1237.3l28 28M1086.3 1265.3l28 -28M1117.3 1279.6h28M1131.3 1265.6v28M1117.3 1265.6l28 28M1117.3 1293.6l28 -28M1148.3 1301.1h28M1162.3 1287.1v28M1148.3 1287.1l28 28M1148.3 1315.1l28 -28M1179.2 1324.6h28M1193.2 1310.6v28M1179.2 1310.6l28 28M1179.2 1338.6l28 -28M1210.2 1338.2h28M1224.2 1324.2v28M1210.2 1324.2l28 28M1210.2 1352.2l28 -28M1241.2 1349h28M1255.2 1335v28M1241.2 1335l28 28M1241.2 1363l28 -28M1272.1 1364.6h28M1286.1 1350.6v28M1272.1 1350.6l28 28M1272.1 1378.6l28 -28M1303.1 1374.3h28M1317.1 1360.3v28M1303.1 1360.3l28 28M1303.1 1388.3l28 -28M1334 1382.1h28M1348 1368.1v28M1334 1368.1l28 28M1334 1396.1l28 -28M1365 1388h28M1379 1374v28M1365 1374l28 28M1365 1402l28 -28M1396 1391.9h28M1410 1377.9v28M1396 1377.9l28 28M1396 1405.9l28 -28M1426.9 1394.8h28M1440.9 1380.8v28M1426.9 1380.8l28 28M1426.9 1408.8l28 -28M1457.9 1396.8h28M1471.9 1382.8v28M1457.9 1382.8l28 28M1457.9 1410.8l28 -28M1488.9 1398.7h28M1502.9 1384.7v28M1488.9 1384.7l28 28M1488.9 1412.7l28 -28M1519.8 1399.7h28M1533.8 1385.7v28M1519.8 1385.7l28 28M1519.8 1413.7l28 -28M1550.8 1400.7h28M1564.8 1386.7v28M1550.8 1386.7l28 28M1550.8 1414.7l28 -28M1581.8 1401.7h28M1595.8 1387.7v28M1581.8 1387.7l28 28M1581.8 1415.7l28 -28M1612.7 1401.7h28M1626.7 1387.7v28M1612.7 1387.7l28 28M1612.7 1415.7l28 -28M1643.7 1401.7h28M1657.7 1387.7v28M1643.7 1387.7l28 28M1643.7 1415.7l28 -28M1674.6 1401.7h28M1688.6 1387.7v28M1674.6 1387.7l28 28M1674.6 1415.7l28 -28M1705.6 1401.7h28M1719.6 1387.7v28M1705.6 1387.7l28 28M1705.6 1415.7l28 -28M1736.6 1401.7h28M1750.6 1387.7v28M1736.6 1387.7l28 28M1736.6 1415.7l28 -28M1767.5 1401.7h28M1781.5 1387.7v28M1767.5 1387.7l28 28M1767.5 1415.7l28 -28M1798.5 1401.7h28M1812.5 1387.7v28M1798.5 1387.7l28 28M1798.5 1415.7l28 -28M1829.5 1401.7h28M1843.5 1387.7v28M1829.5 1387.7l28 28M1829.5 1415.7l28 -28M1860.4 1401.7h28M1874.4 1387.7v28M1860.4 1387.7l28 28M1860.4 1415.7l28 -28M1891.4 1401.7h28M1905.4 1387.7v28M1891.4 1387.7l28 28M1891.4 1415.7l28 -28M1922.3 1401.7h28M1936.3 1387.7v28M1922.3 1387.7l28 28M1922.3 1415.7l28 -28M1953.3 1401.7h28M1967.3 1387.7v28M1953.3 1387.7l28 28M1953.3 1415.7l28 -28M1984.3 1401.7h28M1998.3 1387.7v28M1984.3 1387.7l28 28M1984.3 1415.7l28 -28M2015.2 1401.7h28M2029.2 1387.7v28M2015.2 1387.7l28 28M2015.2 1415.7l28 -28M2046.2 1401.7h28M2060.2 1387.7v28M2046.2 1387.7l28 28M2046.2 1415.7l28 -28M2077.2 1401.7h28M2091.2 1387.7v28M2077.2 1387.7l28 28M2077.2 1415.7l28 -28M2108.1 1401.7h28M2122.1 1387.7v28M2108.1 1387.7l28 28M2108.1 1415.7l28 -28M2139.1 1401.7h28M2153.1 1387.7v28M2139.1 1387.7l28 28M2139.1 1415.7l28 -28M2170.1 1401.7h28M2184.1 1387.7v28M2170.1 1387.7l28 28M2170.1 1415.7l28 -28M2201 1401.7h28M2215 1387.7v28M2201 1387.7l28 28M2201 1415.7l28 -28" fill="none" stroke="#0000ff" stroke-width="7.0"/>
<path d="M374.2 1252.7h28v28h-28zM405.1 993h28v28h-28zM436.1 769.8h28v28h-28zM467.1 597.7h28v28h-28zM498 470.8h28v28h-28zM529 408.4h28v28h-28zM560 382.6h28v28h-28zM590.9 398h28v28h-28zM621.9 438.5h28v28h-28zM652.9 485.2h28v28h-28zM683.8 544.8h28v28h-28zM714.8 609.3h28v28h-28zM745.7 678.5h28v28h-28zM776.7 733.7h28v28h-28zM807.7 813.1h28v28h-28zM838.6 859.7h28v28h-28zM869.6 916h28v28h-28zM900.6 975.5h28v28h-28zM931.5 1029.3h28v28h-28zM962.5 1078h28v28h-28zM993.4 1131.5h28v28h-28zM1024.4 1175.9h28v28h-28zM1055.4 1207.9h28v28h-28zM1086.3 1240.8h28v28h-28zM1117.3 1269.3h28v28h-28zM1148.3 1290.4h28v28h-28zM1179.2 1313.5h28v28h-28zM1210.2 1326.7h28v28h-28zM1241.2 1341.4h28v28h-28zM1272.1 1354.9h28v28h-28zM1303.1 1364.8h28v28h-28zM1334 1369.1h28v28h-28zM1365 1374.6h28v28h-28zM1396 1377.9h28v28h-28zM1426.9 1381.8h28v28h-28zM1457.9 1384.7h28v28h-28zM1488.9 1386.7h28v28h-28zM1519.8 1387.7h28v28h-28zM1550.8 1387.7h28v28h-28zM1581.8 1387.7h28v28h-28zM1612.7 1387.7h28v28h-28zM1643.7 1387.7h28v28h-28zM1674.6 1387.7h28v28h-28zM1705.6 1387.7h28v28h-28zM1736.6 1387.7h28v28h-28zM1767.5 1387.7h28v28h-28zM1798.5 1387.7h28v28h-28zM1829.5 1387.7h28v28h-28zM1860.4 1387.7h28v28h-28zM1891.4 1387.7h28v28h-28zM1922.3 1387.7h28v28h-28zM1953.3 1387.7h28v28h-28zM1984.3 1387.7h28v28h-28zM2015.2 1387.7h28v28h-28zM2046.2 1387.7h28v28h-28zM2077.2 1387.7h28v28h-28zM2108.1 1387.7h28v28h-28zM2139.1 1387.7h28v28h-28zM2170.1 1387.7h28v28h-28zM2201 1387.7h28v28h-28z" fill="none" stroke="#ff00ff" stroke-width="7.0"/><path d="M388.2 1266.7h0.01M419.1 1007h0.01M450.1 783.8h0.01M481.1 611.7h0.01M512 484.8h0.01M543 422.4h0.01M574 396.6h0.01M604.9 412h0.01M635.9 452.5h0.01M666.9 499.2h0.01M697.8 558.8h0.01M728.8 623.3h0.01M759.7 692.5h0.01M790.7 747.7h0.01M821.7 827.1h0.01M852.6 873.7h0.01M883.6 930h0.01M914.6 989.5h0.01M945.5 1043.3h0.01M976.5 1092h0.01M1007.4 1145.5h0.01M1038.4 1189.9h0.01M1069.4 1221.9h0.01M1100.3 1254.8h0.01M1131.3 1283.3h0.01M1162.3 1304.4h0.01M1193.2 1327.5h0.01M1224.2 1340.7h0.01M1255.2 1355.4h0.01M1286.1 1368.9h0.01M1317.1 1378.8h0.01M1348 1383.1h0.01M1379 1388.6h0.01M1410 1391.9h0.01M1440.9 1395.8h0.01M1471.9 1398.7h0.01M1502.9 1400.7h0.01M1533.8 1401.7h0.01M1564.8 1401.7h0.01M1595.8 1401.7h0.01M1626.7 1401.7h0.01M1657.7 1401.7h0.01M1688.6 1401.7h0.01M1719.6 1401.7h0.01M1750.6 1401.7h0.01M1781.5 1401.7h0.01M1812.5 1401.7h0.01M1843.5 1401.7h0.01M1874.4 1401.7h0.01M1905.4 1401.7h0.01M1936.3 1401.7h0.01M1967.3 1401.7h0.01M1998.3 1401.7h0.01M2029.2 1401.7h0.01M2060.2 1401.7h0.01M2091.2 1401.7h0.01M2122.1 1401.7h0.01M2153.1 1401.7h0.01M2184.1 1401.7h0.01M2215 1401.7h0.01" fill="none" stroke="#ff00ff" stroke-width="7.0" stroke-linecap="round"/>
<path d="M374.2 1251.4h28v28h-28zM405.1 974.6h28v28h-28zM436.1 739h28v28h-28zM467.1 560.1h28v28h-28zM498 435.2h28v28h-28zM529 362h28v28h-28zM560 354.6h28v28h-28zM590.9 362h28v28h-28zM621.9 405.9h28v28h-28zM652.9 467.6h28v28h-28zM683.8 549.1h28v28h-28zM714.8 618.3h28v28h-28zM745.7 691h28v28h-28zM776.7 755.8h28v28h-28zM807.7 821.7h28v28h-28zM838.6 885.1h28v28h-28zM869.6 948.1h28v28h-28zM900.6 995.6h28v28h-28zM931.5 1044.3h28v28h-28zM962.5 1101h28v28h-28zM993.4 1140.2h28v28h-28zM1024.4 1187h28v28h-28zM1055.4 1222.1h28v28h-28zM1086.3 1252.3h28v28h-28zM1117.3 1271h28v28h-28zM1148.3 1301.4h28v28h-28zM1179.2 1320.6h28v28h-28zM1210.2 1336.9h28v28h-28zM1241.2 1345.5h28v28h-28zM1272.1 1360.4h28v28h-28zM1303.1 1366h28v28h-28zM1334 1372.1h28v28h-28zM1365 1376.9h28v28h-28zM1396 1379.9h28v28h-28zM1426.9 1381.8h28v28h-28zM1457.9 1383.8h28v28h-28zM1488.9 1384.7h28v28h-28zM1519.8 1385.7h28v28h-28zM1550.8 1386.7h28v28h-28zM1581.8 1387.7h28v28h-28zM1612.7 1387.7h28v28h-28zM1643.7 1387.7h28v28h-28zM1674.6 1387.7h28v28h-28zM1705.6 1387.7h28v28h-28zM1736.6 1387.7h28v28h-28zM1767.5 1387.7h28v28h-28zM1798.5 1387.7h28v28h-28zM1829.5 1387.7h28v28h-28zM1860.4 1387.7h28v28h-28zM1891.4 1387.7h28v28h-28zM1922.3 1387.7h28v28h-28zM1953.3 1387.7h28v28h-28zM1984.3 1387.7h28v28h-28zM2015.2 1387.7h28v28h-28zM2046.2 1387.7h28v28h-28zM2077.2 1387.7h28v28h-28zM2108.1 1387.7h28v28h-28zM2139.1 1387.7h28v28h-28zM2170.1 1387.7h28v28h-28zM2201 1387.7h28v28h-28z" fill="#00ffff"/>
<path d="M374.2 1228.8a14 14 0 1 0 28 0a14 14 0 1 0 -28 0zM405.1 892.4a14 14 0 1 0 28 0a14 14 0 1 0 -28 0zM436.1 637.2a14 14 0 1 0 28 0a14 14 0 1 0 -28 0zM467.1 503a14 14 0 1 0 28 0a14 14 0 1 0 -28 0zM498 385a14 14 0 1 0 28 0a14 14 0 1 0 -28 0zM529 334a14 14 0 1 0 28 0a14 14 0 1 0 -28 0zM560 285a14 14 0 1 0 28 0a14 14 0 1 0 -28 0zM590.9 273.3a14 14 0 1 0 28 0a14 14 0 1 0 -28 0zM621.9 316.7a14 14 0 1 0 28 0a14 14 0 1 0 -28 0zM652.9 402.4a14 14 0 1 0 28 0a14 14 0 1 0 -28 0zM683.8 460.9a14 14 0 1 0 28 0a14 14 0 1 0 -28 0zM714.8 571.5a14 14 0 1 0 28 0a14 14 0 1 0 -28 0zM745.7 658.8a14 14 0 1 0 28 0a14 14 0 1 0 -28 0zM776.7 749.6a14 14 0 1 0 28 0a14 14 0 1 0 -28 0zM807.7 853.1a14 14 0 1 0 28 0a14 14 0 1 0 -28 0zM838.6 945.2a14 14 0 1 0 28 0a14 14 0 1 0 -28 0zM869.6 1038.2a14 14 0 1 0 28 0a14 14 0 1 0 -28 0zM900.6 1104.4a14 14 0 1 0 28 0a14 14 0 1 0 -28 0zM931.5 1157.9a14 14 0 1 0 28 0a14 14 0 1 0 -28 0zM962.5 1202.7a14 14 0 1 0 28 0a14 14 0 1 0 -28 0zM993.4 1251.3a14 14 0 1 0 28 0a14 14 0 1 0 -28 0zM1024.4 1288.2a14 14 0 1 0 28 0a14 14 0 1 0 -28 0zM1055.4 1303.5a14 14 0 1 0 28 0a14 14 0 1 0 -28 0zM1086.3 1337a14 14 0 1 0 28 0a14 14 0 1 0 -28 0zM1117.3 1355.2a14 14 0 1 0 28 0a14 14 0 1 0 -28 0zM1148.3 1363.6a14 14 0 1 0 28 0a14 14 0 1 0 -28 0zM1179.2 1377.7a14 14 0 1 0 28 0a14 14 0 1 0 -28 0zM1210.2 1382.4a14 14 0 1 0 28 0a14 14 0 1 0 -28 0zM1241.2 1388.1a14 14 0 1 0 28 0a14 14 0 1 0 -28 0zM1272.1 1385.4a14 14 0 1 0 28 0a14 14 0 1 0 -28 0zM1303.1 1389.8a14 14 0 1 0 28 0a14 14 0 1 0 -28 0zM1334 1393a14 14 0 1 0 28 0a14 14 0 1 0 -28 0zM1365 1397.9a14 14 0 1 0 28 0a14 14 0 1 0 -28 0zM1396 1397.9a14 14 0 1 0 28 0a14 14 0 1 0 -28 0zM1426.9 1399.7a14 14 0 1 0 28 0a14 14 0 1 0 -28 0zM1457.9 1400.7a14 14 0 1 0 28 0a14 14 0 1 0 -28 0zM1488.9 1401.7a14 14 0 1 0 28 0a14 14 0 1 0 -28 0zM1519.8 1401.7a14 14 0 1 0 28 0a14 14 0 1 0 -28 0zM1550.8 1401.7a14 14 0 1 0 28 0a14 14 0 1 0 -28 0zM1581.8 1401.7a14 14 0 1 0 28 0a14 14 0 1 0 -28 0zM1612.7 1401.7a14 14 0 1 0 28 0a14 14 0 1 0 -28 0zM1643.7 1401.7a14 14 0 1 0 28 0a14 14 0 1 0 -28 0zM1674.6 1401.7a14 14 0 1 0 28 0a14 14 0 1 0 -28 0zM1705.6 1401.7a14 14 0 1 0 28 0a14 14 0 1 0 -28 0zM1736.6 1401.7a14 14 0 1 0 28 0a14 14 0 1 0 -28 0zM1767.5 1401.7a14 14 0 1 0 28 0a14 14 0 1 0 -28 0zM1798.5 1401.7a14 14 0 1 0 28 0a14 14 0 1 0 -28 0zM1829.5 1401.7a14 14 0 1 0 28 0a14 14 0 1 0 -28 0zM1860.4 1401.7a14 14 0 1 0 28 0a14 14 0 1 0 -28 0zM1891.4 1401.7a14 14 0 1 0 28 0a14 14 0 1 0 -28 0zM1922.3 1401.7a14 14 0 1 0 28 0a14 14 0 1 0 -28 0zM1953.3 1401.7a14 14 0 1 0 28 0a14 14 0 1 0 -28 0zM1984.3 1401.7a14 14 0 1 0 28 0a14 14 0 1 0 -28 0zM2015.2 1401.7a14 14 0 1 0 28 0a14 14 0 1 0 -28 0zM2046.2 1401.7a14 14 0 1 0 28 0a14 14 0 1 0 -28 0zM2077.2 1401.7a14 14 0 1 0 28 0a14 14 0 1 0 -28 0zM2108.1 1401.7a14 14 0 1 0 28 0a14 14 0 1 0 -28 0zM2139.1 1401.7a14 14 0 1 0 28 0a14 14 0 1 0 -28 0zM2170.1 1401.7a14 14 0 1 0 28 0a14 14 0 1 0 -28 0zM2201 1401.7a14 14 0 1 0 28 0a14 14 0 1 0 -28 0z" fill="#000000"/>
<path d="M2036.5 197.6h28M2050.5 183.6v28" fill="none" stroke="#ff0000" stroke-width="7.0"/>
<path d="M2036.5 278.4l28 28M2036.5 306.4l28 -28" fill="none" stroke="#00ff00" stroke-width="7.0"/>
<path d="M2036.5 386.6h28M2050.5 372.6v28M2036.5 372.6l28 28M2036.5 400.6l28 -28" fill="none" stroke="#0000ff" stroke-width="7.0"/>
<path d="M2036.5 466.4h28v28h-28z" fill="none" stroke="#ff00ff" stroke-width="7.0"/>
<path d="M2050.5 480.4h0.01" stroke="#ff00ff" stroke-width="7.0" stroke-linecap="round"/>
<path d="M2036.5 560.6h28v28h-28z" fill="#00ffff"/>
<path d="M2036.5 668.8a14 14 0 1 0 28 0a14 14 0 1 0 -28 0z" fill="#000000"/>
<path d="M1927 763.0H2175" stroke="#808080" stroke-width="10"/>
<path d="M1927 857.4H2175" stroke="#808080" stroke-width="12" stroke-dasharray="50 101"/>
<path d="M388.2 1281.6L419.1 1044.4L450.1 842.9L481.1 674.4L512 566.1L543 483.4L574 438.6L604.9 428.3L635.9 448.8L666.9 486.3L697.8 542.5L728.8 599.3L759.7 670.5L790.7 740.8L821.7 801.8L852.6 862.2L883.6 924.3L914.6 978L945.5 1026.8L976.5 1077.6L1007.4 1129L1038.4 1167.7L1069.4 1203.9L1100.3 1232.7L1131.3 1263.2L1162.3 1286.3L1193.2 1307L1224.2 1323.6L1255.2 1339.2L1286.1 1352.9L1317.1 1362.6L1348 1370.4L1379 1375.3L1410 1379.7L1440.9 1383.1L1471.9 1386.1L1502.9 1388.5L1533.8 1391.4L1564.8 1393.9L1595.8 1396.3L1626.7 1397.3L1657.7 1398.1L1688.6 1398.5L1719.6 1398.9L1750.6 1399.2L1781.5 1399.5L1812.5 1399.7L1843.5 1399.7L1874.4 1399.7L1905.4 1399.7L1936.3 1399.7L1967.3 1399.7L1998.3 1399.7L2029.2 1399.7L2060.2 1399.7L2091.2 1399.7L2122.1 1399.7L2153.1 1399.7L2184.1 1399.7L2215 1399.7L2230.5 1399.7" fill="none" stroke="#808080" stroke-width="10" stroke-linejoin="round"/>
<path d="M388.2 1354.6L419.1 1258.1L450.1 1161.2L481.1 1075.7L512 999.4L543 930L574 871.5L604.9 826.8L635.9 785.9L666.9 767.4L697.8 755.4L728.8 751.1L759.7 755.7L790.7 764.6L821.7 784.1L852.6 809.1L883.6 834L914.6 857.8L945.5 888.3L976.5 920.8L1007.4 952L1038.4 983.3L1069.4 1016.4L1100.3 1048.8L1131.3 1077.6L1162.3 1104.6L1193.2 1131.5L1224.2 1157.5L1255.2 1181.6L1286.1 1201.9L1317.1 1222.3L1348 1240.9L1379 1257.7L1410 1271.8L1440.9 1285.8L1471.9 1299.7L1502.9 1312.8L1533.8 1323L1564.8 1331.7L1595.8 1340.4L1626.7 1348.2L1657.7 1355.3L1688.6 1360.9L1719.6 1366.3L1750.6 1371.7L1781.5 1375.7L1812.5 1379L1843.5 1381.4L1874.4 1383.7L1905.4 1386L1936.3 1389.3L1967.3 1392.1L1998.3 1392.7L2029.2 1393.3L2060.2 1393.9L2091.2 1395.4L2122.1 1396.3L2153.1 1396.1L2184.1 1395.9L2215 1395.7L2230.5 1395.7" fill="none" stroke="#808080" stroke-width="12" stroke-linejoin="round" stroke-dasharray="50 101"/>
<rect x="372.7" y="77.0" width="1857.8" height="1327.6" fill="none" stroke="#000" stroke-width="4.6" stroke-linejoin="round"/>
</g>
</svg>
</body></html>
